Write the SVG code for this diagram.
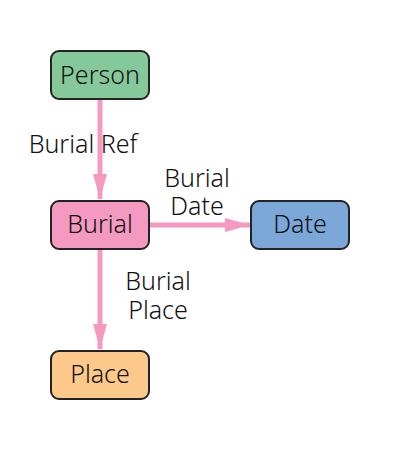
<svg xmlns="http://www.w3.org/2000/svg" width="400" height="450" viewBox="0 0 400 450">
<style>
.node rect{stroke:#222;stroke-width:2}
.nt{font-family:"Noto Sans",sans-serif;font-size:25px;font-weight:300;fill:#111;text-anchor:middle}
.el{font-family:"Noto Sans",sans-serif;font-size:25px;font-weight:300;fill:#111;text-anchor:middle}
.edge{stroke:#f49ac1;stroke-width:5;fill:none}
</style>
<defs>
<marker id="ah" markerWidth="5" markerHeight="2.8" refX="5" refY="1.4" orient="auto" markerUnits="strokeWidth">
<path d="M0,0 L5,1.4 L0,2.8 Z" fill="#f49ac1"/>
</marker>
</defs>
<rect width="400" height="450" fill="#fff"/>
<g id="connectors">
<line class="edge" x1="100" y1="100" x2="100" y2="199" marker-end="url(#ah)"/>
<line class="edge" x1="150" y1="225" x2="250" y2="225" marker-end="url(#ah)"/>
<line class="edge" x1="100" y1="250" x2="100" y2="349" marker-end="url(#ah)"/>
<text class="el" x="83" y="153">Burial Ref</text>
<text class="el"><tspan x="197" y="187">Burial</tspan><tspan x="197" y="215">Date</tspan></text>
<text class="el"><tspan x="158" y="290">Burial</tspan><tspan x="158" y="319">Place</tspan></text>
</g>
<g id="person" class="node"><rect x="51" y="51" width="98" height="48" rx="8" fill="#85c99a"/><text class="nt" x="100" y="84">Person</text></g>
<g id="burial" class="node"><rect x="51" y="201" width="98" height="48" rx="8" fill="#f49ac1"/><text class="nt" x="100" y="233">Burial</text></g>
<g id="date" class="node"><rect x="251" y="201" width="98" height="48" rx="8" fill="#7ba7d9"/><text class="nt" x="300" y="233">Date</text></g>
<g id="place" class="node"><rect x="51" y="351" width="98" height="48" rx="8" fill="#fdc98a"/><text class="nt" x="100" y="383">Place</text></g>
</svg>
